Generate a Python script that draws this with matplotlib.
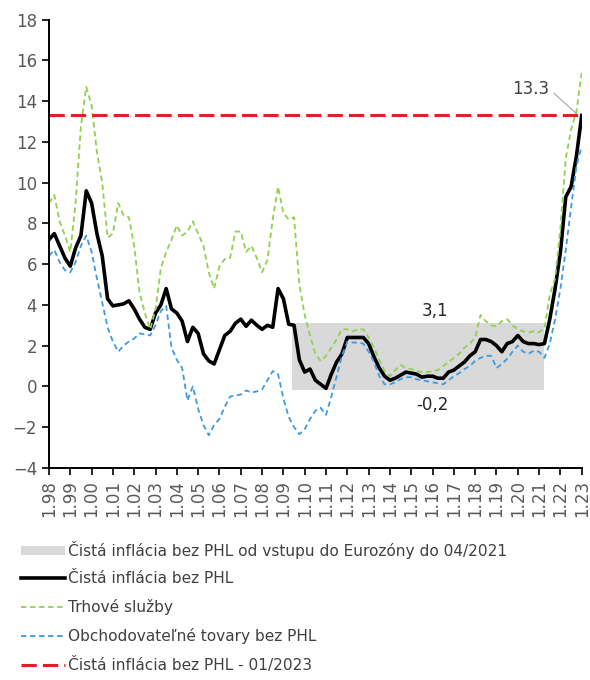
import numpy as np
import matplotlib
matplotlib.use("Agg")
import matplotlib.pyplot as plt

# quarterly readings, 1998Q1 .. 2023Q1
years = np.arange(1998, 2023.001, 0.25)

core = [7.2, 7.5, 6.9, 6.3,
        5.9, 6.8, 7.4, 9.6,
        9.0, 7.5, 6.4, 4.3,
        3.95, 4.0, 4.05, 4.2,
        3.8, 3.3, 2.9, 2.8,
        3.6, 4.0, 4.8, 3.8,
        3.6, 3.2, 2.2, 2.9,
        2.6, 1.6, 1.25, 1.1,
        1.8, 2.5, 2.7, 3.1,
        3.3, 2.95, 3.25, 3.0,
        2.8, 3.0, 2.9, 4.8,
        4.3, 3.05, 3.0, 1.3,
        0.7, 0.85, 0.3, 0.1,
        -0.1, 0.6, 1.2, 1.6,
        2.4, 2.4, 2.4, 2.4,
        2.1, 1.45, 0.9, 0.5,
        0.3, 0.4, 0.55, 0.7,
        0.65, 0.6, 0.45, 0.5,
        0.5, 0.4, 0.4, 0.7,
        0.8, 1.0, 1.2, 1.5,
        1.7, 2.3, 2.3, 2.2,
        2.0, 1.7, 2.1, 2.2,
        2.5, 2.2, 2.1, 2.1,
        2.05, 2.1, 3.3, 4.8,
        6.6, 9.3, 9.8, 11.3,
        13.3]

services = [9.0, 9.4, 8.1, 7.4,
            6.6, 9.0, 12.8, 14.7,
            13.8, 11.5, 10.0, 7.3,
            7.5, 9.0, 8.4, 8.3,
            6.9, 4.6, 3.6, 2.8,
            3.8, 5.8, 6.6, 7.2,
            7.9, 7.4, 7.6, 8.1,
            7.5, 6.9, 5.6, 4.8,
            5.9, 6.25, 6.3, 7.6,
            7.6, 6.6, 6.9, 6.3,
            5.6, 6.2, 8.2, 9.8,
            8.5, 8.2, 8.3, 5.0,
            3.5, 2.5, 1.6, 1.25,
            1.5, 1.9, 2.3, 2.8,
            2.8, 2.7, 2.8, 2.8,
            2.4, 1.9, 1.3, 0.75,
            0.5, 0.8, 1.05, 0.9,
            0.85, 0.75, 0.7, 0.7,
            0.75, 0.8, 1.0, 1.2,
            1.4, 1.6, 1.9, 2.1,
            2.4, 3.5, 3.2, 3.0,
            2.95, 3.2, 3.3, 3.0,
            2.8, 2.7, 2.65, 2.7,
            2.65, 2.85, 4.5, 5.3,
            7.8, 11.2, 12.6, 13.5,
            15.4]

goods = [6.4, 6.7, 6.1, 5.7,
         5.6, 6.1, 6.9, 7.4,
         6.6, 5.3, 4.1, 2.9,
         2.2, 1.7, 2.0, 2.2,
         2.35, 2.6, 2.55, 2.5,
         3.0, 3.7, 3.95, 1.9,
         1.3, 0.9, -0.7, 0.0,
         -1.1, -1.9, -2.4, -1.9,
         -1.6, -1.0, -0.5, -0.45,
         -0.4, -0.2, -0.3, -0.25,
         -0.15, 0.3, 0.75, 0.6,
         -0.6, -1.5, -2.0, -2.35,
         -2.1, -1.6, -1.2, -1.05,
         -1.4, -0.5, 0.5, 1.5,
         2.2, 2.15, 2.15, 2.1,
         1.7, 1.2, 0.5, 0.1,
         0.1, 0.2, 0.35, 0.45,
         0.45, 0.35, 0.3, 0.25,
         0.2, 0.15, 0.1, 0.3,
         0.5, 0.65, 0.85, 1.0,
         1.25, 1.4, 1.5, 1.5,
         0.9, 1.1, 1.35, 1.7,
         2.0, 1.7, 1.6, 1.75,
         1.7, 1.4, 2.1, 3.3,
         4.8, 6.7, 8.8, 10.8,
         11.8]

latest_core = 13.3
band_start, band_end = 2009.4, 2021.25
band_low, band_high = -0.2, 3.1

tick_years = list(range(1998, 2024))
tick_labels = ["1.%02d" % (y % 100) for y in tick_years]

grey_txt = "#595959"

fig = plt.figure(figsize=(5.9, 6.8), dpi=100)
ax = fig.add_axes([0.083, 0.312, 0.903, 0.659])

ax.fill_between([band_start, band_end], band_low, band_high, color="#d9d9d9",
                lw=0, label="Čistá inflácia bez PHL od vstupu do Eurozóny do 04/2021")
ax.plot(years, core, color="black", lw=2.6, label="Čistá inflácia bez PHL")
ax.plot(years, services, color="#92d050", lw=1.3, dashes=(3, 2), label="Trhové služby")
ax.plot(years, goods, color="#3d9be0", lw=1.3, dashes=(3, 2), label="Obchodovateľné tovary bez PHL")
ax.axhline(latest_core, color="#e41e26", lw=2.2, dashes=(5, 2),
           label="Čistá inflácia bez PHL - 01/2023")

ax.text(2016.1, band_high + 0.15, "3,1", ha="center", va="bottom", fontsize=12, color="#262626")
ax.text(2016.0, band_low - 0.25, "-0,2", ha="center", va="top", fontsize=12, color="#262626")
ax.annotate("13.3", xy=(2022.85, latest_core), xytext=(2020.6, 14.6),
            ha="center", va="center", fontsize=12, color="#404040",
            arrowprops=dict(arrowstyle="-", color="#a6a6a6", lw=0.8, relpos=(1.0, 0.5)))

ax.set_xlim(1998, 2023)
ax.set_ylim(-4, 18)
ax.set_yticks(range(-4, 19, 2))
ax.set_xticks(tick_years)
ax.set_xticklabels(tick_labels, rotation=90)
ax.tick_params(axis="both", colors="black", labelcolor=grey_txt, labelsize=12,
               length=5, width=1.2, direction="out")
for s in ["top", "right"]:
    ax.spines[s].set_visible(False)
for s in ["left", "bottom"]:
    ax.spines[s].set_linewidth(1.4)

fig.legend(loc="upper left", bbox_to_anchor=(0.035, 0.205), frameon=False,
           fontsize=11.1, labelcolor="#404040", handlelength=2.9, handleheight=0.5,
           handletextpad=0.15, labelspacing=0.83, borderpad=0, borderaxespad=0)

fig.savefig("out.png", dpi=100, facecolor="white")
